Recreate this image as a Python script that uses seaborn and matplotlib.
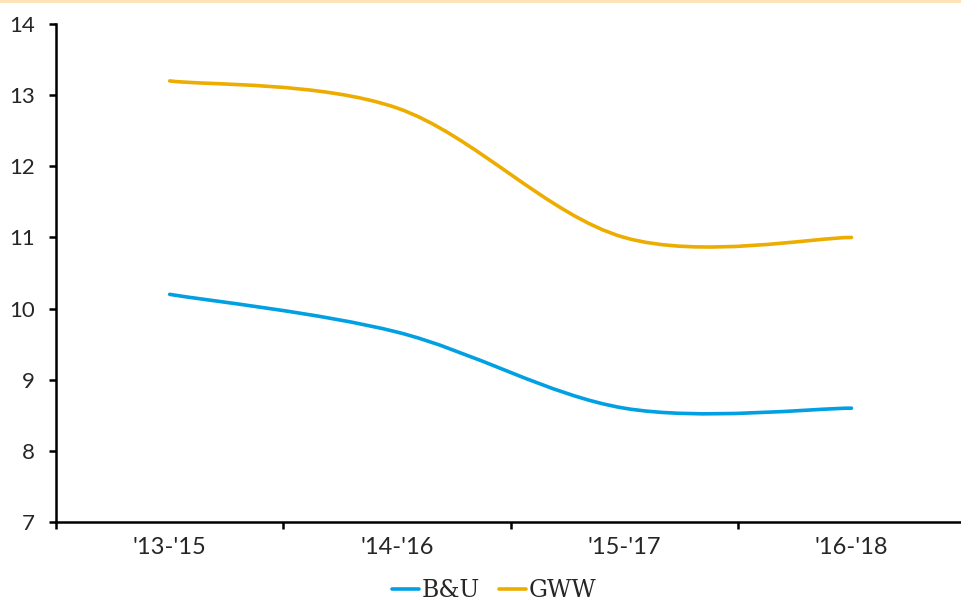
import numpy as np
import pandas as pd
import matplotlib
matplotlib.use("Agg")
import matplotlib.pyplot as plt
import seaborn as sns
from matplotlib.path import Path
from matplotlib.patches import PathPatch, Rectangle

# ── Data ──────────────────────────────────────────────────────────────────────
periods = ["'13-'15", "'14-'16", "'15-'17", "'16-'18"]
bu_vals = [10.2, 9.67, 8.6, 8.6]
gww_vals = [13.2, 12.82, 11.0, 11.0]
series_names = ["B&U", "GWW"]
colors = {"B&U": "#00A0E3", "GWW": "#EDAD00"}

df = pd.DataFrame({
    "period": periods * 2,
    "value": bu_vals + gww_vals,
    "series": ["B&U"] * len(periods) + ["GWW"] * len(periods),
})


def smooth_path(xs, ys):
    # Excel-style smoothed line: Catmull-Rom segments as cubic Bezier
    pts = np.column_stack([xs, ys])
    n = len(pts)
    verts = [tuple(pts[0])]
    codes = [Path.MOVETO]
    for i in range(n - 1):
        p0 = pts[i - 1] if i > 0 else pts[i]
        p1, p2 = pts[i], pts[i + 1]
        p3 = pts[i + 2] if i + 2 < n else pts[i + 1]
        c1 = p1 + (p2 - p0) / 6
        c2 = p2 - (p3 - p1) / 6
        verts += [tuple(c1), tuple(c2), tuple(p2)]
        codes += [Path.CURVE4] * 3
    return Path(verts, codes)


# ── Plot ──────────────────────────────────────────────────────────────────────
sns.set_style("white")
plt.rcParams["font.family"] = ["Lato", "DejaVu Sans"]

fig = plt.figure(figsize=(9.61, 6.02), dpi=100)
ax = fig.add_axes([0.0583, 0.1329, 0.946, 0.8272])

sns.lineplot(data=df, x="period", y="value", hue="series",
             hue_order=series_names, palette=colors, linewidth=2.6,
             sort=False, ax=ax, legend=False)

# replace straight segments with smoothed curves built from the same points
for line, name in zip(ax.get_lines(), series_names):
    xs, ys = line.get_xdata(), line.get_ydata()
    line.set_visible(False)
    ax.add_patch(PathPatch(smooth_path(np.asarray(xs, float), np.asarray(ys, float)),
                           facecolor="none", edgecolor=colors[name],
                           linewidth=2.6, capstyle="round"))

ax.set_xlim(-0.5, len(periods) - 0.5)
ax.set_ylim(7, 14)
ax.set_yticks(range(7, 15))
ax.set_xticks(np.arange(len(periods) + 1) - 0.5)
ax.set_xticklabels([])
ax.set_xticks(range(len(periods)), minor=True)
ax.set_xticklabels(periods, minor=True)
ax.set_xlabel("")
ax.set_ylabel("")

for side in ["top", "right"]:
    ax.spines[side].set_visible(False)
for side in ["left", "bottom"]:
    ax.spines[side].set_color("black")
    ax.spines[side].set_linewidth(1.8)

ax.tick_params(axis="y", which="major", direction="out", length=5, width=1.8,
               color="black", labelsize=16, pad=10, left=True)
ax.tick_params(axis="x", which="major", direction="out", length=5, width=1.8,
               color="black", bottom=True)
ax.tick_params(axis="x", which="minor", length=0, labelsize=17, pad=11)

# legend
handles = [plt.Line2D([], [], color=colors[n], linewidth=2.6) for n in series_names]
fig.legend(handles, series_names, loc="lower center", bbox_to_anchor=(0.514, -0.035),
           ncol=2, frameon=False, handlelength=1.15, handletextpad=0.1,
           columnspacing=0.8, prop={"family": "DejaVu Serif", "size": 17})

# thin strip across the top
fig.patches.append(Rectangle((0, 0.995), 1, 0.005, transform=fig.transFigure,
                             facecolor="#FCE4B8", edgecolor="none"))

fig.savefig("out.png", dpi=100)
